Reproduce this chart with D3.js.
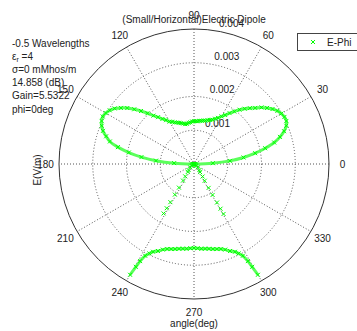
<!DOCTYPE html>
<html>
<head>
<meta charset="utf-8">
<script src="https://cdn.jsdelivr.net/npm/d3@7"></script>
<style>
	body { margin: 0; background: #fff; }
	svg text { font-family: 'Liberation Sans', Arial, sans-serif; font-size: 10px; fill: #222; }
</style>
</head>
<body>
<div id="chart"></div>
<script>
// E-Phi field, values in mV/m (rings are labelled in V/m)
const lobeAngles = [0, 2.5, 5, 7.5, 10, 12.5, 15, 17.5, 20, 22.5, 25, 27.5, 30, 32.5, 35, 37.5, 40, 42.5, 45, 47.5,
	50, 52.5, 55, 57.5, 60, 62.5, 65, 67.5, 70, 72.5, 75, 77.5, 80, 82.5, 85, 87.5, 90, 92.5, 95, 97.5,
	100, 102.5, 105, 107.5, 110, 112.5, 115, 117.5, 120, 122.5, 125, 127.5, 130, 132.5, 135, 137.5, 140, 142.5, 145, 147.5,
	150, 152.5, 155, 157.5, 160, 162.5, 165, 167.5, 170, 172.5, 175, 177.5, 180];
const lobeField = [0, 0.56, 1.07, 1.48, 1.84, 2.16, 2.46, 2.67, 2.84, 2.96, 3.02, 3.02, 2.99, 2.93, 2.84, 2.73, 2.61, 2.46, 2.34, 2.22,
	2.10, 1.96, 1.84, 1.72, 1.63, 1.54, 1.48, 1.42, 1.39, 1.36, 1.33, 1.32, 1.30, 1.29, 1.27, 1.27, 1.27, 1.26, 1.24, 1.23,
	1.21, 1.21, 1.24, 1.27, 1.30, 1.33, 1.36, 1.41, 1.45, 1.54, 1.63, 1.75, 1.87, 2.04, 2.22, 2.40, 2.58, 2.73, 2.87, 2.96,
	3.02, 3.05, 3.02, 2.96, 2.87, 2.73, 2.58, 2.31, 1.96, 1.57, 1.13, 0.59, 0];
const arcAngles = [240, 240.5, 241, 242, 243.5, 245, 247.5, 250, 252.5, 255, 257.5, 260, 262.5, 265, 267.5, 270,
	272.5, 275, 277.5, 280, 282.5, 285, 287.5, 290, 292.5, 295, 296.5, 298, 299, 299.5, 300];
const arcField = [3.79, 3.50, 3.29, 3.08, 2.96, 2.87, 2.79, 2.70, 2.64, 2.61, 2.58, 2.55, 2.53, 2.52, 2.50, 2.49,
	2.50, 2.52, 2.53, 2.55, 2.58, 2.61, 2.64, 2.70, 2.79, 2.87, 2.96, 3.08, 3.29, 3.50, 3.79];
const armLeftAngles = [185, 195, 205, 215, 222, 228, 232, 234.5, 236.5, 237.5, 238, 238.2, 238.3, 238.4];
const armLeftField = [0.03, 0.04, 0.06, 0.09, 0.15, 0.24, 0.30, 0.45, 0.59, 0.83, 1.07, 1.33, 1.54, 1.72];
const armRightAngles = [300.6, 300.7, 300.8, 301, 301.5, 302.5, 304.5, 307, 312, 318, 325, 335, 345, 355];
const armRightField = [1.72, 1.54, 1.33, 1.07, 0.83, 0.59, 0.45, 0.30, 0.24, 0.15, 0.09, 0.06, 0.04, 0.03];

const ringValues = [1, 2, 3, 4];
const ringLabels = ['0.001', '0.002', '0.003', '0.004'];
const spokeAngles = [0, 30, 60, 90, 120, 150];
const labelAngles = [0, 30, 60, 90, 120, 150, 180, 210, 240, 270, 300, 330];
const infoLines = ['-0.5 Wavelengths', 'εr =4', 'σ=0 mMhos/m', '14.858 (dB)', 'Gain=5.5322', 'phi=0deg'];
const titleText = '(Small/Horizontal)Electric Dipole';
const seriesName = 'E-Phi';

const width = 357, height = 331;
const cx = 194, cy = 164, rmax = 135;
const green = '#00ff00';
const rad = Math.PI / 180;

const rScale = d3.scaleLinear().domain([0, 4]).range([0, rmax]);
const toXY = (a, v) => [cx + rScale(v) * Math.cos(a * rad), cy - rScale(v) * Math.sin(a * rad)];

const svg = d3.select('#chart').append('svg')
	.attr('width', width)
	.attr('height', height);

// grid
const grid = svg.append('g');
ringValues.slice(0, -1).forEach(v => {
	grid.append('circle')
		.attr('cx', cx).attr('cy', cy).attr('r', rScale(v))
		.attr('fill', 'none').attr('stroke', '#555').attr('stroke-dasharray', '1 2');
});
spokeAngles.forEach(a => {
	const p1 = toXY(a, 4), p2 = toXY(a + 180, 4);
	grid.append('line')
		.attr('x1', p1[0]).attr('y1', p1[1]).attr('x2', p2[0]).attr('y2', p2[1])
		.attr('stroke', '#555').attr('stroke-dasharray', '1 2');
});
grid.append('circle')
	.attr('cx', cx).attr('cy', cy).attr('r', rScale(4))
	.attr('fill', 'none').attr('stroke', '#333');

// ring labels at 82 deg, like matlab polar
ringValues.forEach((v, i) => {
	const p = toXY(82, v + 0.05);
	svg.append('text')
		.attr('x', p[0] + 6).attr('y', p[1] - 2)
		.text(ringLabels[i]);
});

labelAngles.forEach(a => {
	const p = toXY(a, 4.4);
	svg.append('text')
		.attr('x', p[0]).attr('y', p[1])
		.attr('text-anchor', 'middle').attr('dominant-baseline', 'central')
		.text(a);
});

// data
const series = [
	{ angles: lobeAngles, values: lobeField, line: true },
	{ angles: arcAngles, values: arcField, line: true },
	{ angles: armLeftAngles, values: armLeftField, line: false },
	{ angles: armRightAngles, values: armRightField, line: false }
];
const radial = d3.lineRadial()
	.angle(d => (90 - d.a) * rad)
	.radius(d => rScale(d.v))
	.curve(d3.curveCatmullRom);
const xMark = 'M-2,-2L2,2M-2,2L2,-2';

series.forEach(s => {
	const pts = s.angles.map((a, i) => ({ a: a, v: s.values[i] }));
	if (s.line) {
		svg.append('path')
			.datum(pts)
			.attr('transform', 'translate(' + cx + ',' + cy + ')')
			.attr('d', radial)
			.attr('fill', 'none').attr('stroke', '#5cff5c').attr('stroke-width', 3);
	}
	svg.append('g').selectAll('path')
		.data(pts)
		.join('path')
		.attr('transform', d => 'translate(' + toXY(d.a, d.v).join(',') + ')')
		.attr('d', xMark)
		.attr('fill', 'none').attr('stroke', green).attr('stroke-width', 1);
});

// texts
svg.append('text')
	.attr('x', cx).attr('y', 19)
	.attr('text-anchor', 'middle').attr('dominant-baseline', 'central')
	.text(titleText);
svg.append('text')
	.attr('x', cx).attr('y', 323)
	.attr('text-anchor', 'middle').attr('dominant-baseline', 'central')
	.text('angle(deg)');
svg.append('text')
	.attr('transform', 'translate(37,170) rotate(-90)')
	.attr('text-anchor', 'middle').attr('dominant-baseline', 'central')
	.text('E(V/m)');

const info = svg.append('g');
infoLines.forEach((t, i) => {
	const txt = info.append('text')
		.attr('x', 12).attr('y', 43 + i * 13.2)
		.attr('dominant-baseline', 'central');
	if (t.startsWith('ε')) {
		txt.append('tspan').text('ε');
		txt.append('tspan').attr('dy', 3).style('font-size', '7px').text('r');
		txt.append('tspan').attr('dy', -3).text(t.slice(2));
	} else {
		txt.text(t);
	}
});

// legend
const legend = svg.append('g');
legend.append('rect')
	.attr('x', 297.5).attr('y', 33.5).attr('width', 70).attr('height', 17)
	.attr('fill', '#fff').attr('stroke', '#444');
legend.append('path')
	.attr('transform', 'translate(313,42)')
	.attr('d', xMark)
	.attr('fill', 'none').attr('stroke', green);
legend.append('text')
	.attr('x', 327).attr('y', 42)
	.attr('dominant-baseline', 'central')
	.text(seriesName);
</script>
</body>
</html>
